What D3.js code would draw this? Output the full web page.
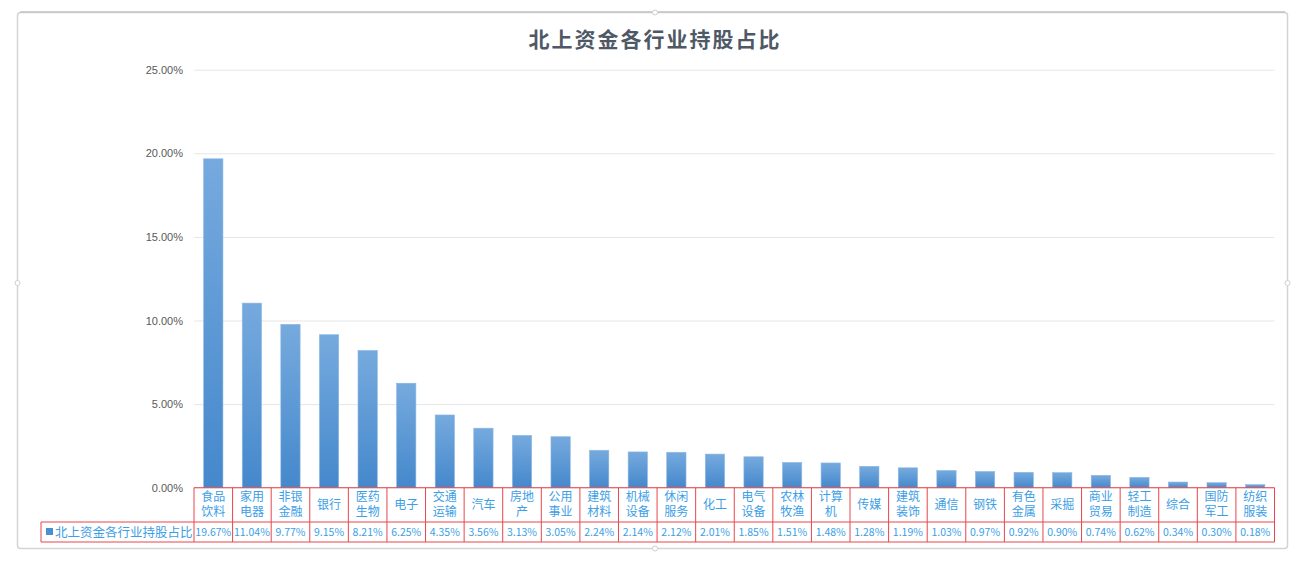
<!DOCTYPE html>
<html>
<head>
<meta charset="utf-8">
<script src="https://cdn.jsdelivr.net/npm/d3@7"></script>
<style>
  body { margin: 0; background: #fff; }
  svg { display: block; font-family: "Noto Sans CJK SC", "Noto Sans", sans-serif; }
</style>
</head>
<body>
<div id="chart"></div>
<script>
// data
var categories = ["食品饮料", "家用电器", "非银金融", "银行", "医药生物", "电子", "交通运输", "汽车",
  "房地产", "公用事业", "建筑材料", "机械设备", "休闲服务", "化工", "电气设备", "农林牧渔",
  "计算机", "传媒", "建筑装饰", "通信", "钢铁", "有色金属", "采掘", "商业贸易", "轻工制造",
  "综合", "国防军工", "纺织服装"];
var values = [19.67, 11.04, 9.77, 9.15, 8.21, 6.25, 4.35, 3.56, 3.13, 3.05, 2.24, 2.14, 2.12,
  2.01, 1.85, 1.51, 1.48, 1.28, 1.19, 1.03, 0.97, 0.92, 0.90, 0.74, 0.62, 0.34, 0.30, 0.18];
var yTicks = [0, 5, 10, 15, 20, 25];
var seriesName = "北上资金各行业持股占比";
var chartTitle = "北上资金各行业持股占比";

var svgWidth = 1306;
var svgHeight = 562;

// plot area (window.top is read-only, so no "top" here)
var plotLeft = 194, plotRight = 1274.5, plotTop = 69.7, plotBottom = 487.7;
var legendLeft = 41;
var row1 = 522, row2 = 542;

var svg = d3.select("#chart")
  .append("svg")
  .attr("width", svgWidth)
  .attr("height", svgHeight);

var defs = svg.append("defs");
var grad = defs.append("linearGradient")
  .attr("id", "barGrad")
  .attr("x1", 0).attr("y1", 0).attr("x2", 0).attr("y2", 1);
grad.append("stop").attr("offset", "0%").attr("stop-color", "#76aade");
grad.append("stop").attr("offset", "100%").attr("stop-color", "#4588cc");

// outer frame
svg.append("rect")
  .attr("x", 17.5).attr("y", 12.5)
  .attr("width", 1270).attr("height", 536)
  .attr("rx", 3)
  .attr("fill", "#fff")
  .attr("stroke", "#d4d4d4")
  .attr("stroke-width", 1.5);
svg.append("line")
  .attr("x1", 20).attr("x2", 1285)
  .attr("y1", 12).attr("y2", 12)
  .attr("stroke", "#c4c4c4").attr("stroke-width", 1.5);

// little handles at the frame midpoints
var handles = [[655, 12.5], [17.5, 283], [1287.5, 283], [655, 548.5]];
svg.selectAll(".handle")
  .data(handles)
  .enter()
  .append("circle")
  .attr("class", "handle")
  .attr("cx", d => d[0])
  .attr("cy", d => d[1])
  .attr("r", 2.5)
  .attr("fill", "#fff")
  .attr("stroke", "#cfcfcf");

// title
svg.append("text")
  .attr("x", 655)
  .attr("y", 47)
  .attr("text-anchor", "middle")
  .attr("font-size", "21px")
  .attr("font-weight", "bold")
  .attr("letter-spacing", "2px")
  .attr("fill", "#4f5966")
  .text(chartTitle);

// scales
var xScale = d3.scaleBand()
  .domain(categories)
  .range([plotLeft, plotRight])
  .padding(0);

var yScale = d3.scaleLinear()
  .domain([0, 25])
  .range([plotBottom, plotTop]);

// y axis with gridlines
var leftAxis = d3.axisLeft(yScale)
  .tickValues(yTicks)
  .tickSize(-(plotRight - plotLeft))
  .tickPadding(11)
  .tickFormat(d => d3.format(".2f")(d) + "%");

var yAxis = svg.append("g")
  .attr("transform", `translate(${plotLeft}, 0)`)
  .call(leftAxis);

yAxis.select(".domain").remove();
yAxis.selectAll("line")
  .attr("stroke", "#e6e6e6")
  .attr("stroke-width", 1);
yAxis.selectAll("text")
  .attr("fill", "#595959")
  .attr("font-size", "11px");

// bars
var bw = xScale.bandwidth() / 2;
svg.selectAll(".bar")
  .data(values)
  .enter()
  .append("rect")
  .attr("class", "bar")
  .attr("x", (d, i) => xScale(categories[i]) + (xScale.bandwidth() - bw) / 2)
  .attr("y", d => yScale(d))
  .attr("width", bw)
  .attr("height", d => plotBottom - yScale(d))
  .attr("fill", "url(#barGrad)")
  .attr("stroke", "#8ab8e4")
  .attr("stroke-width", 0.6);

// data table under the chart
var red = "#e8454a";
var blue = "#3b9ee6";
var tbl = svg.append("g");

tbl.append("line")
  .attr("x1", plotLeft).attr("x2", plotRight)
  .attr("y1", plotBottom).attr("y2", plotBottom)
  .attr("stroke", red);
[row1, row2].forEach(function (y) {
  tbl.append("line")
    .attr("x1", legendLeft).attr("x2", plotRight)
    .attr("y1", y).attr("y2", y)
    .attr("stroke", red);
});
tbl.append("line")
  .attr("x1", legendLeft).attr("x2", legendLeft)
  .attr("y1", row1).attr("y2", row2)
  .attr("stroke", red);

var edges = categories.map(c => xScale(c)).concat([plotRight]);
tbl.selectAll(".vline")
  .data(edges)
  .enter()
  .append("line")
  .attr("class", "vline")
  .attr("x1", d => d).attr("x2", d => d)
  .attr("y1", plotBottom).attr("y2", row2)
  .attr("stroke", red);

// category labels (split into two lines when longer than two characters)
categories.forEach(function (c) {
  var cx = xScale(c) + xScale.bandwidth() / 2;
  var lines = c.length > 2 ? [c.slice(0, 2), c.slice(2)] : [c];
  var ys = lines.length === 1 ? [508.5] : [500.5, 516];
  lines.forEach(function (s, k) {
    tbl.append("text")
      .attr("x", cx)
      .attr("y", ys[k])
      .attr("text-anchor", "middle")
      .attr("font-size", "12px")
      .attr("fill", blue)
      .text(s);
  });
});

// value row
tbl.selectAll(".val")
  .data(values)
  .enter()
  .append("text")
  .attr("class", "val")
  .attr("x", (d, i) => xScale(categories[i]) + xScale.bandwidth() / 2)
  .attr("y", 536)
  .attr("text-anchor", "middle")
  .attr("font-size", "10.5px")
  .attr("fill", blue)
  .text(d => d3.format(".2f")(d) + "%");

// legend cell
tbl.append("rect")
  .attr("x", 46).attr("y", 528)
  .attr("width", 7).attr("height", 7)
  .attr("fill", "#4a8fd4");
tbl.append("text")
  .attr("x", 55)
  .attr("y", 536.5)
  .attr("font-size", "12.5px")
  .attr("fill", blue)
  .text(seriesName);
</script>
</body>
</html>
